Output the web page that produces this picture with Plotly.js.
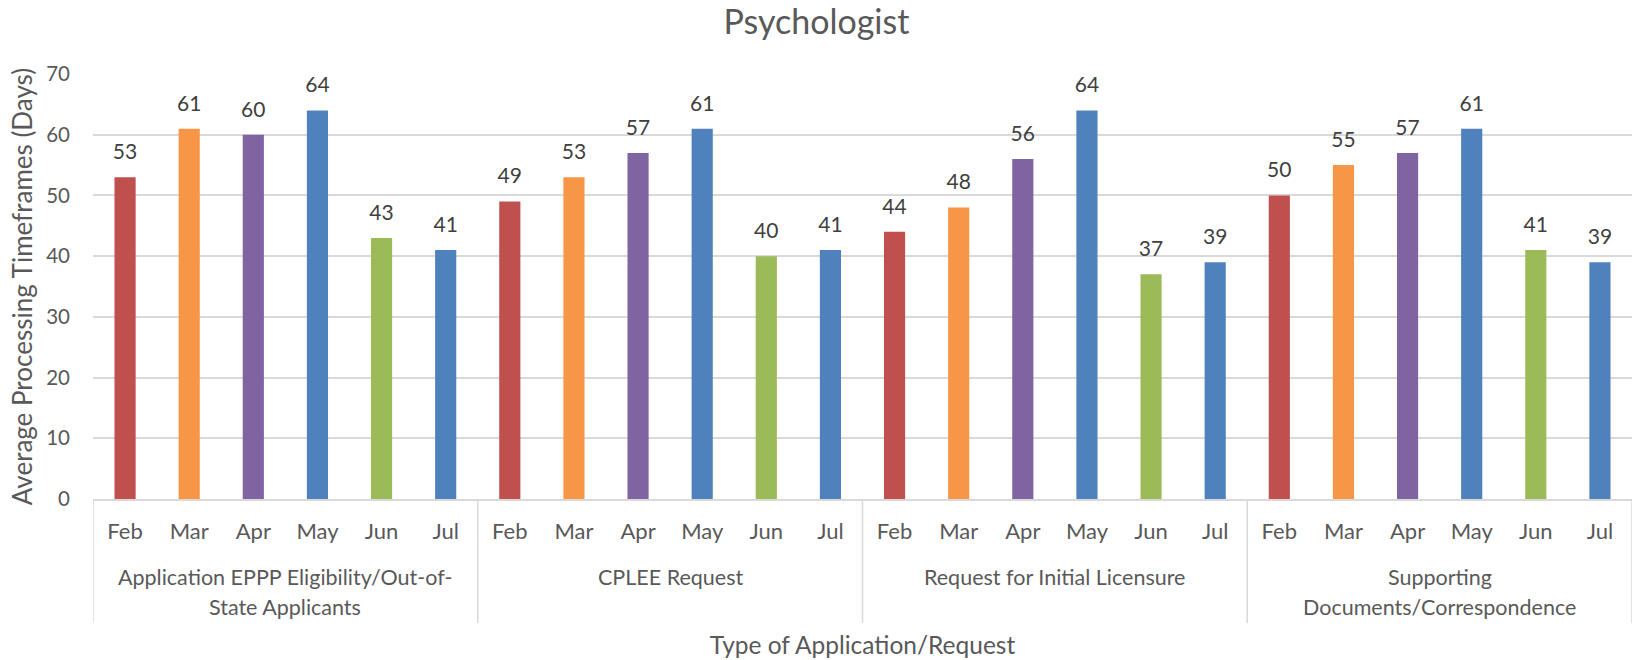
<!DOCTYPE html>
<html>
<head>
<meta charset="utf-8">
<script src="https://cdn.plot.ly/plotly-3.0.1.min.js"></script>
<style>html,body{margin:0;padding:0;background:#fff}#chart{width:1633px;height:660px}</style>
</head>
<body>
<div id="chart"></div>
<script>
const months = ['Feb', 'Mar', 'Apr', 'May', 'Jun', 'Jul'];
const groupLine1 = ['Application EPPP Eligibility/Out-of-', 'CPLEE Request', 'Request for Initial Licensure', 'Supporting'];
const groupLine2 = ['State Applicants', '', '', 'Documents/Correspondence'];
const eppp = [53, 61, 60, 64, 43, 41];
const cplee = [49, 53, 57, 61, 40, 41];
const initial = [44, 48, 56, 64, 37, 39];
const supporting = [50, 55, 57, 61, 41, 39];
const monthColors = ['#C0504D', '#F79646', '#8064A2', '#4F81BD', '#9BBB59', '#4F81BD'];

const seriesByGroup = [eppp, cplee, initial, supporting];
const nM = months.length, nG = groupLine1.length;
const xPos = [], yVals = [], colors = [], tickText = [];
for (let gi = 0; gi < nG; gi++) {
  for (let mi = 0; mi < nM; mi++) {
    xPos.push(gi * nM + mi);
    yVals.push(seriesByGroup[gi][mi]);
    colors.push(monthColors[mi]);
    tickText.push(months[mi]);
  }
}

const FONT = 'Lato, Carlito, Calibri, "Open Sans", sans-serif';
const TXT = '#595959';
const GRID = '#D9D9D9';

const plotTop = 74, plotBottom = 499, plotH = plotBottom - plotTop;
const py = p => (plotBottom - p) / plotH;   // pixel row -> paper y

const bars = {
  type: 'bar',
  x: xPos,
  y: yVals,
  width: 0.33,
  marker: {color: colors},
  hoverinfo: 'y',
  showlegend: false
};
const labels = {
  type: 'scatter',
  mode: 'markers+text',
  x: xPos,
  y: yVals,
  text: yVals.map(String),
  textposition: 'top center',
  textfont: {family: FONT, size: 21, color: '#404040'},
  marker: {size: 19, opacity: 0},
  hoverinfo: 'skip',
  showlegend: false,
  cliponaxis: false
};

const annotations = [];
const shapes = [];
for (let gi = 0; gi < nG; gi++) {
  const cx = gi * nM + (nM - 1) / 2;
  annotations.push({xref: 'x', yref: 'paper', x: cx, y: py(577), yanchor: 'middle', showarrow: false,
    text: groupLine1[gi], font: {family: FONT, size: 21.5, color: TXT}});
  if (groupLine2[gi]) {
    annotations.push({xref: 'x', yref: 'paper', x: cx, y: py(607), yanchor: 'middle', showarrow: false,
      text: groupLine2[gi], font: {family: FONT, size: 21.5, color: TXT}});
  }
}
for (let gi = 0; gi <= nG; gi++) {
  const bx = gi * nM - 0.5;
  shapes.push({type: 'line', xref: 'x', yref: 'paper', x0: bx, x1: bx, y0: 0, y1: py(623),
    line: {color: GRID, width: 1.5}, layer: 'below'});
}

const layout = {
  width: 1633,
  height: 660,
  margin: {l: 93, r: 1, t: plotTop, b: 660 - plotBottom},
  paper_bgcolor: '#fff',
  plot_bgcolor: '#fff',
  font: {family: FONT, size: 20, color: TXT},
  title: {text: 'Psychologist', font: {family: FONT, size: 34, color: TXT}, x: 0.5, xref: 'container', xanchor: 'center', y: 1 - 22 / 660, yref: 'container', yanchor: 'middle'},
  xaxis: {
    range: [-0.5, nG * nM - 0.5],
    tickmode: 'array',
    tickvals: xPos,
    ticktext: tickText,
    showline: true,
    linecolor: GRID,
    linewidth: 1.5,
    showgrid: false,
    zeroline: false,
    ticks: '',
    ticklabelstandoff: 12,
    tickfont: {family: FONT, size: 22, color: TXT},
    automargin: false,
    fixedrange: true,
    title: {text: 'Type of Application/Request', font: {family: FONT, size: 24.5, color: TXT}, standoff: 94}
  },
  yaxis: {
    range: [0, 70],
    dtick: 10,
    showgrid: true,
    gridcolor: GRID,
    gridwidth: 1.5,
    zeroline: false,
    showline: false,
    ticks: '',
    ticklabelstandoff: 22,
    tickfont: {family: FONT, size: 20.5, color: TXT},
    automargin: false,
    fixedrange: true,
    title: {text: 'Average Processing Timeframes (Days)', font: {family: FONT, size: 26, color: TXT}, standoff: 6}
  },
  annotations: annotations,
  shapes: shapes
};

Plotly.newPlot('chart', [bars, labels], layout, {displayModeBar: false, responsive: false});
</script>
</body>
</html>
